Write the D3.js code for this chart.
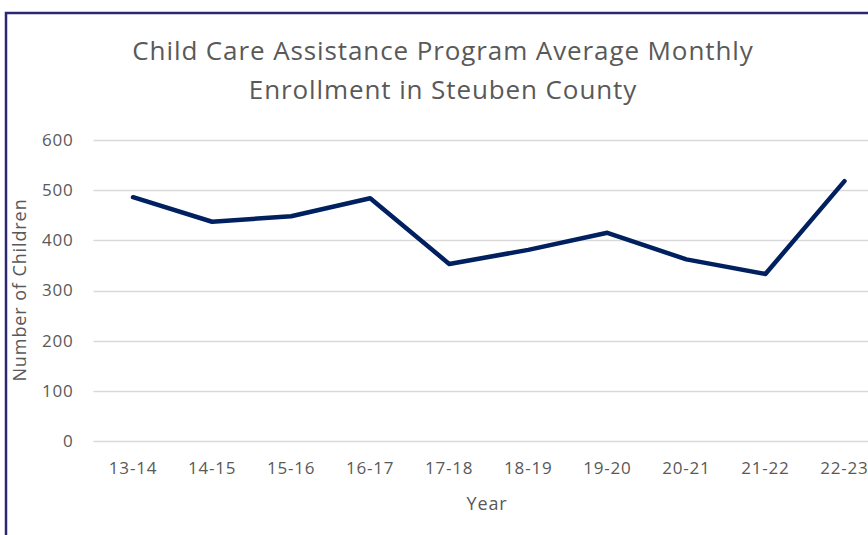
<!DOCTYPE html>
<html>
<head>
<meta charset="utf-8">
<script src="https://cdn.jsdelivr.net/npm/d3@7"></script>
<style>
  body { margin: 0; background: #fff; }
</style>
</head>
<body>
<div id="wrapper"></div>
<script>
// data
const years = ["13-14", "14-15", "15-16", "16-17", "17-18", "18-19", "19-20", "20-21", "21-22", "22-23"]
const enrollment = [486, 437, 448, 484, 353, 381, 415, 362, 333, 518]
const yTicks = [0, 100, 200, 300, 400, 500, 600]
const titleLines = ["Child Care Assistance Program Average Monthly", "Enrollment in Steuben County"]

function drawChart() {
  const dimensions = {
    width: 868,
    height: 535,
    margin: { top: 140, left: 93.5, bottom: 94, right: -16 }
  }
  dimensions.boundedWidth = dimensions.width - dimensions.margin.left - dimensions.margin.right
  dimensions.boundedHeight = dimensions.height - dimensions.margin.top - dimensions.margin.bottom

  const svg = d3.select("#wrapper").append("svg")
      .attr("width", dimensions.width)
      .attr("height", dimensions.height)
      .style("font-family", "'Open Sans', sans-serif")

  // frame
  svg.append("path")
      .attr("d", `M6,${dimensions.height} L6,13 L${dimensions.width},13`)
      .attr("fill", "none")
      .attr("stroke", "#2b2870")
      .attr("stroke-width", 2.5)

  const bounds = svg.append("g")
      .attr("transform", `translate(${dimensions.margin.left},${dimensions.margin.top})`)

  const xScale = d3.scaleBand()
      .domain(years)
      .range([0, dimensions.boundedWidth])
  const yScale = d3.scaleLinear()
      .domain([0, 600])
      .range([dimensions.boundedHeight, 0])

  // gridlines
  bounds.append("g").selectAll("line")
      .data(yTicks)
      .join("line")
      .attr("x1", 0)
      .attr("x2", dimensions.boundedWidth)
      .attr("y1", d => Math.round(yScale(d)) + 0.5)
      .attr("y2", d => Math.round(yScale(d)) + 0.5)
      .attr("stroke", "#d9d9d9")
      .attr("stroke-width", 1.5)

  // y tick labels
  bounds.append("g").selectAll("text")
      .data(yTicks)
      .join("text")
      .attr("x", -20)
      .attr("y", d => yScale(d))
      .attr("dy", "0.35em")
      .attr("text-anchor", "end")
      .attr("fill", "#595959")
      .style("font-size", "17px")
      .style("letter-spacing", "0.8px")
      .text(d => d)

  // x tick labels
  bounds.append("g").selectAll("text")
      .data(years)
      .join("text")
      .attr("x", d => xScale(d) + xScale.bandwidth() / 2)
      .attr("y", dimensions.boundedHeight + 33)
      .attr("text-anchor", "middle")
      .attr("fill", "#595959")
      .style("font-size", "17px")
      .style("letter-spacing", "0.8px")
      .text(d => d)

  // the line
  const line = d3.line()
      .x((d, i) => xScale(years[i]) + xScale.bandwidth() / 2)
      .y(d => yScale(d))
  bounds.append("path")
      .datum(enrollment)
      .attr("d", line)
      .attr("fill", "none")
      .attr("stroke", "#002060")
      .attr("stroke-width", 4.5)
      .attr("stroke-linejoin", "round")
      .attr("stroke-linecap", "round")

  // title
  svg.append("text")
      .attr("x", 443)
      .attr("y", 60)
      .attr("text-anchor", "middle")
      .attr("fill", "#595959")
      .style("font-size", "26px")
      .style("letter-spacing", "0.9px")
      .selectAll("tspan")
      .data(titleLines)
      .join("tspan")
      .attr("x", 443)
      .attr("dy", (d, i) => i === 0 ? 0 : 39)
      .text(d => d)

  // axis titles
  svg.append("text")
      .attr("transform", "translate(26,290) rotate(-90)")
      .attr("text-anchor", "middle")
      .attr("fill", "#595959")
      .style("font-size", "18px")
      .style("letter-spacing", "0.9px")
      .text("Number of Children")

  svg.append("text")
      .attr("x", 487)
      .attr("y", 510)
      .attr("text-anchor", "middle")
      .attr("fill", "#595959")
      .style("font-size", "18px")
      .style("letter-spacing", "0.9px")
      .text("Year")
}
drawChart()
</script>
</body>
</html>
